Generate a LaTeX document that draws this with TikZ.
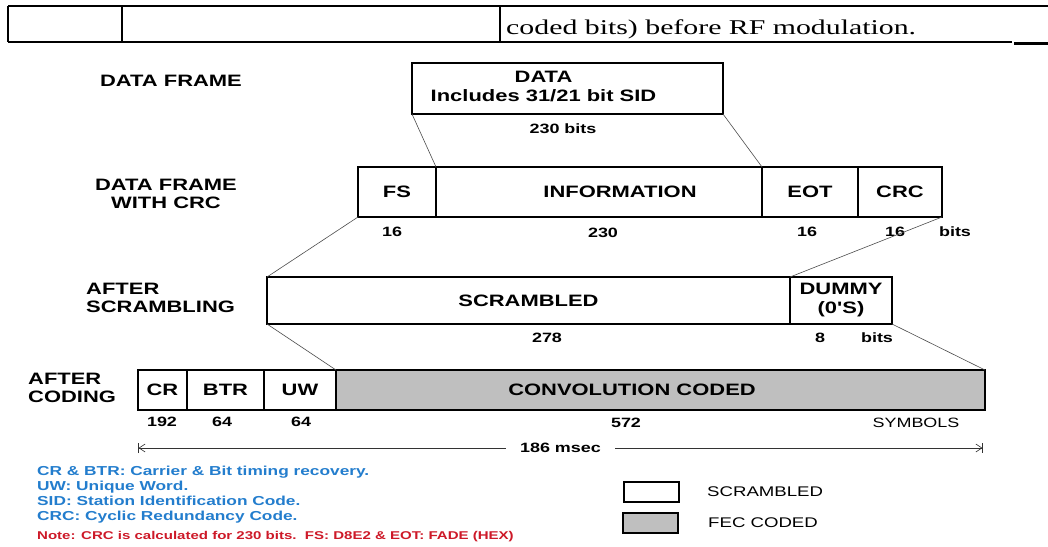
\documentclass[tikz,border=0pt]{standalone}
\usepackage{fontspec}
\usetikzlibrary{arrows.meta,positioning}
\setmainfont{Liberation Sans}
\newfontfamily\wide[FakeStretch=1.33]{Liberation Sans}
\newfontfamily\widerm[FakeStretch=1.42]{Liberation Serif}
\definecolor{noteblue}{RGB}{35,125,205}
\definecolor{notered}{RGB}{205,25,40}

\begin{document}
\begin{tikzpicture}
            [x=1pt, y=-1pt,
             seg/.style={shape=rectangle, draw=black, line width=2.4pt, anchor=north west,
                         inner sep=0pt, outer sep=0pt, font=\wide\bfseries\fontsize{16.5}{19}\selectfont},
             lab/.style={inner sep=0pt, font=\wide\bfseries\fontsize{16.5}{18}\selectfont},
             num/.style={inner sep=0pt, font=\wide\bfseries\fontsize{13.5}{16}\selectfont},
             plain/.style={inner sep=0pt, font=\wide\fontsize{13.5}{16}\selectfont},
             link/.style={draw=gray!60!black, line width=0.6pt},
             span/.style={draw=black!80, line width=0.6pt,
                          arrows={Bar[width=10pt]Straight Barb[length=6pt,width=8pt]-Straight Barb[length=6pt,width=8pt]Bar[width=10pt]}},
             key/.style={shape=rectangle, draw=black, line width=2.6pt, anchor=north west,
                         minimum width=55pt, minimum height=20pt, inner sep=0pt, outer sep=0pt},
             rule/.style={draw=black, line width=1.4pt}]
            \useasboundingbox (0,0) rectangle (1048,546);

            % table strip at the top
            \draw[rule] (8,6) -- (1048,6);
            \draw[rule] (8,6) -- (8,42);
            \draw[rule] (122,6) -- (122,42);
            \draw[rule] (500,6) -- (500,42);
            \draw[rule] (8,42) -- (1012,42);
            \draw[draw=black, line width=2.6pt] (1014,43.5) -- (1048,43.5);
            \node[anchor=base west, inner sep=0pt, font=\widerm\fontsize{21}{25}\selectfont] (cell) at (506,34) {coded bits) before RF modulation.};

            % row labels
            \node[lab] (lbldata) at (171,81) {DATA FRAME};
            \node[lab, align=center] (lblcrc) at (166,194) {DATA FRAME\\WITH CRC};
            \node[lab, align=left, anchor=west] (lblscr) at (86,298) {AFTER\\SCRAMBLING};
            \node[lab, align=left, anchor=west] (lblcod) at (28,388) {AFTER\\CODING};

            % frames
            \node[seg, minimum width=311pt, minimum height=51pt] (data) at (412,63)
                {\raisebox{4pt}{\begin{tabular}{@{}c@{}}DATA\\Includes 31/21 bit SID\end{tabular}}\hspace*{48pt}};
            \node[num] (databits) at (563,129) {230 bits};

            \node[seg, minimum width=78pt, minimum height=50pt] (fs) at (358,167) {FS};
            \node[seg, minimum width=326pt, minimum height=50pt] (info) at (fs.north east) {\hspace*{42pt}INFORMATION};
            \node[seg, minimum width=96pt, minimum height=50pt] (eot) at (info.north east) {EOT};
            \node[seg, minimum width=84pt, minimum height=50pt] (crc) at (eot.north east) {CRC};
            \node[num] (nfs) at (392,232) {16};
            \node[num] (ninfo) at (603,233) {230};
            \node[num] (neot) at (807,232) {16};
            \node[num] (ncrc) at (895,232) {16};
            \node[num] (bitsa) at (955,232) {bits};

            \node[seg, minimum width=523pt, minimum height=47pt] (scr) at (267,277) {SCRAMBLED};
            \node[seg, minimum width=102pt, minimum height=47pt, align=center] (dummy) at (scr.north east) {DUMMY\\(0'S)};
            \node[num] (nscr) at (547,338) {278};
            \node[num] (ndummy) at (820,338) {8};
            \node[num] (bitsb) at (877,338) {bits};

            \node[seg, minimum width=49pt, minimum height=40pt] (cr) at (138,370) {CR};
            \node[seg, minimum width=77pt, minimum height=40pt] (btr) at (cr.north east) {BTR};
            \node[seg, minimum width=72pt, minimum height=40pt] (uw) at (btr.north east) {UW};
            \node[seg, minimum width=649pt, minimum height=40pt, fill=gray!50] (conv) at (uw.north east) {CONVOLUTION CODED\hspace*{57pt}};
            \node[num] (ncr) at (162,422) {192};
            \node[num] (nbtr) at (222,422) {64};
            \node[num] (nuw) at (301,422) {64};
            \node[num] (nconv) at (626,423) {572};
            \node[plain] (symbols) at (916,423) {SYMBOLS};

            % expansion lines
            \draw[link] (data.south west) -- (info.north west);
            \draw[link] (data.south east) -- (eot.north west);
            \draw[link] (fs.south west) -- (scr.north west);
            \draw[link] (crc.south east) -- (dummy.north west);
            \draw[link] (scr.south west) -- (conv.north west);
            \draw[link] (dummy.south east) -- (conv.north east);

            % frame length
            \coordinate (spanl) at ([yshift=-38pt]cr.south west);
            \coordinate (spanr) at ([yshift=-38pt,xshift=-2pt]conv.south east);
            \draw[span] (spanl) -- node[num, fill=white, inner xsep=14pt, inner ysep=2pt] (msec) {186 msec} (spanr);

            % notes
            \node[anchor=north west, inner sep=0pt, align=left, text=noteblue,
                  font=\wide\bfseries\fontsize{13}{15}\selectfont] (abbrev) at (37,466)
                {CR \& BTR: Carrier \& Bit timing recovery.\\UW: Unique Word.\\SID: Station Identification Code.\\CRC: Cyclic Redundancy Code.};
            \node[anchor=west, inner sep=0pt, text=notered,
                  font=\wide\bfseries\fontsize{11.3}{14}\selectfont] (note) at (37,537)
                {Note: CRC is calculated for 230 bits.\ \ FS: D8E2 \& EOT: FADE (HEX)};

            % legend
            \node[key] (keyscr) at (624,482) {};
            \node[key, fill=gray!50] (keyfec) at (623,513) {};
            \node[plain, font=\wide\fontsize{14}{16}\selectfont, right=28pt of keyscr] (txtscr) {SCRAMBLED};
            \node[plain, font=\wide\fontsize{14}{16}\selectfont, right=30pt of keyfec] (txtfec) {FEC CODED};
        \end{tikzpicture}
\end{document}
